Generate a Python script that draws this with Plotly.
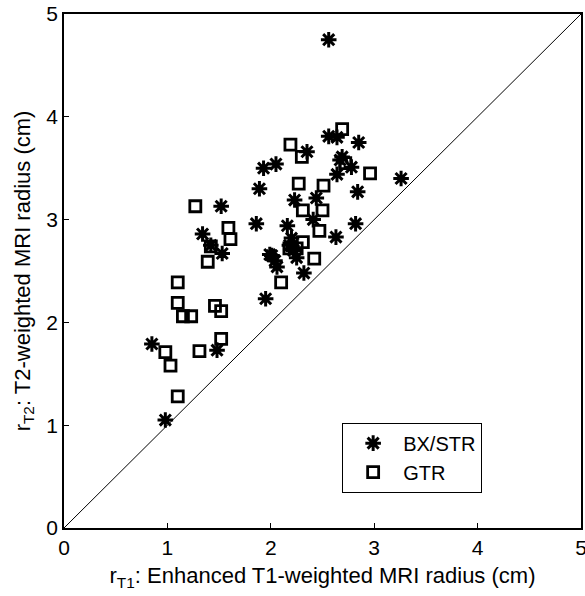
import plotly.graph_objects as go

# BX/STR (asterisks)
bx_x = [0.98, 0.85, 1.48, 1.53, 1.34, 1.52, 1.42, 1.86, 1.89, 1.93, 2.05, 1.95, 1.99, 2.01,
        2.06, 2.04, 2.16, 2.23, 2.20, 2.18, 2.22, 2.25, 2.32, 2.35, 2.41, 2.44, 2.56, 2.56,
        2.64, 2.69, 2.64, 2.63, 2.78, 2.85, 2.84, 2.82, 3.26, 2.67]
bx_y = [1.05, 1.79, 1.73, 2.67, 2.86, 3.13, 2.75, 2.96, 3.30, 3.50, 3.54, 2.23, 2.66, 2.65,
        2.54, 2.60, 2.94, 3.19, 2.82, 2.75, 2.70, 2.63, 2.48, 3.66, 3.00, 3.21, 4.75, 3.81,
        3.80, 3.61, 3.44, 2.83, 3.51, 3.75, 3.27, 2.96, 3.40, 3.58]

# GTR (squares)
gtr_x = [0.98, 1.03, 1.10, 1.10, 1.10, 1.15, 1.23, 1.27, 1.31, 1.39, 1.42, 1.46, 1.52, 1.52,
         1.59, 1.61, 2.10, 2.18, 2.25, 2.19, 2.27, 2.30, 2.31, 2.31, 2.42, 2.47, 2.50, 2.51,
         2.69, 2.96, 2.72]
gtr_y = [1.71, 1.58, 1.28, 2.19, 2.39, 2.06, 2.06, 3.13, 1.72, 2.59, 2.74, 2.16, 2.11, 1.84,
         2.92, 2.81, 2.39, 2.72, 2.72, 3.73, 3.35, 3.61, 3.09, 2.78, 2.62, 2.89, 3.09, 3.33,
         3.88, 3.45, 3.55]

diag = [0, 5]
ticks = [0, 1, 2, 3, 4, 5]

FONT = "Arial, Liberation Sans, sans-serif"

fig = go.Figure()
fig.add_trace(go.Scatter(x=diag, y=diag, mode="lines", line=dict(color="black", width=1),
                         showlegend=False, hoverinfo="skip"))
fig.add_trace(go.Scatter(x=bx_x, y=bx_y, mode="markers", name="BX/STR",
                         marker=dict(symbol="asterisk-open", size=13, color="black",
                                     line=dict(color="black", width=3))))
fig.add_trace(go.Scatter(x=gtr_x, y=gtr_y, mode="markers", name="GTR",
                         marker=dict(symbol="square-open", size=11, color="black",
                                     line=dict(color="black", width=2.8))))

axis_common = dict(range=[0, 5], tickvals=ticks, ticks="inside", ticklen=5, tickcolor="black",
                   showline=True, linecolor="black", linewidth=1.5, mirror=True,
                   showgrid=False, zeroline=False, automargin=False,
                   ticklabeloverflow="allow",
                   tickfont=dict(family=FONT, size=21, color="black"))

fig.update_layout(
    width=585, height=596,
    margin=dict(l=64, r=4, t=14, b=68),
    paper_bgcolor="white", plot_bgcolor="white",
    font=dict(family=FONT, size=21, color="black"),
    xaxis=dict(title=dict(text="r<sub>T1</sub>: Enhanced T1-weighted MRI radius (cm)",
                          font=dict(family=FONT, size=22), standoff=10), **axis_common),
    yaxis=dict(title=dict(text="r<sub>T2</sub>: T2-weighted MRI radius (cm)",
                          font=dict(family=FONT, size=22), standoff=10), **axis_common),
    legend=dict(x=0.538, y=0.205, xanchor="left", yanchor="top",
                bordercolor="black", borderwidth=1, bgcolor="white",
                font=dict(family=FONT, size=20), tracegroupgap=0,
                itemwidth=50),
    showlegend=True,
)

fig.write_html("out.html", config={"displayModeBar": False},
               post_script="document.body.style.margin='0';document.body.style.overflow='hidden';")
